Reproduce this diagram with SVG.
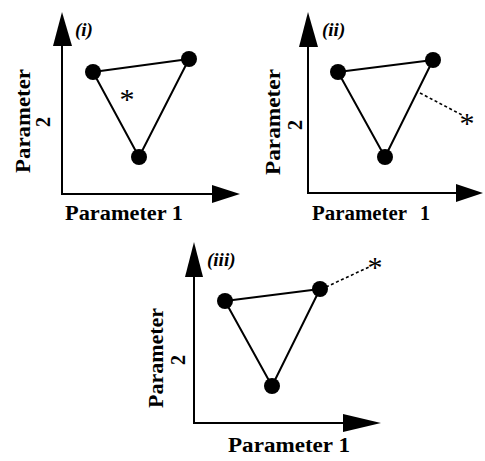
<svg xmlns="http://www.w3.org/2000/svg" width="485" height="461" viewBox="0 0 485 461">
<style>
.ax{stroke:#000;stroke-width:2;fill:none}
.tri{stroke:#000;stroke-width:2;fill:none;stroke-linejoin:round}
.nd{fill:#000}
.ah{fill:#000}
.lbl{font-family:"Liberation Serif",serif;font-weight:bold;font-size:20px;fill:#000}
.tag{font-family:"Liberation Serif",serif;font-style:italic;font-weight:bold;font-size:19px;fill:#000}
.star{font-family:"Liberation Serif",serif;font-size:30px;fill:#000;text-anchor:middle}
.dash{stroke:#000;stroke-width:1.6;stroke-dasharray:3,2.5;fill:none}
</style>
<rect width="485" height="461" fill="#fff"/>
<!-- Panel i -->
<g id="panel-i">
  <g id="axes-i">
    <path class="ax" d="M62,40 V194 H215"/>
    <polygon class="ah" points="62,12 53,46 72,46"/>
    <polygon class="ah" points="240,194 212,185 212,203"/>
    <text class="tag" x="75" y="36">(i)</text>
    <text class="lbl" x="65" y="220" textLength="118" lengthAdjust="spacingAndGlyphs">Parameter 1</text>
    <text class="lbl" transform="translate(30,173) rotate(-90)" textLength="104" lengthAdjust="spacingAndGlyphs">Parameter</text>
    <text class="lbl" transform="translate(50,122) rotate(-90)" text-anchor="middle">2</text>
  </g>
  <g id="simplex-i">
    <polygon class="tri" points="93,72 189,59 139,157"/>
    <circle id="n-i-1" class="nd" cx="93" cy="72" r="8"/>
    <circle id="n-i-2" class="nd" cx="189" cy="59" r="8"/>
    <circle id="n-i-3" class="nd" cx="139" cy="157" r="8"/>
    <text class="star" x="127" y="109">*</text>
  </g>
</g>
<!-- Panel ii -->
<g id="panel-ii">
  <g id="axes-ii">
    <path class="ax" d="M308,40 V193 H460"/>
    <polygon class="ah" points="308,12 299,47 318,47"/>
    <polygon class="ah" points="483,193 456,184 456,202"/>
    <text class="tag" x="322" y="36">(ii)</text>
    <text class="lbl" x="312" y="220"><tspan textLength="95" lengthAdjust="spacingAndGlyphs">Parameter</tspan><tspan x="420">1</tspan></text>
    <text class="lbl" transform="translate(280,175) rotate(-90)" textLength="106" lengthAdjust="spacingAndGlyphs">Parameter</text>
    <text class="lbl" transform="translate(302,125) rotate(-90)" text-anchor="middle">2</text>
  </g>
  <g id="simplex-ii">
    <polygon class="tri" points="338,72 433,60 385,157"/>
    <circle id="n-ii-1" class="nd" cx="338" cy="72" r="8"/>
    <circle id="n-ii-2" class="nd" cx="433" cy="60" r="8"/>
    <circle id="n-ii-3" class="nd" cx="385" cy="157" r="8"/>
  </g>
  <g id="connector-ii">
    <path class="dash" d="M420,93 L462,115"/>
  </g>
  <text class="star" x="467" y="133">*</text>
</g>
<!-- Panel iii -->
<g id="panel-iii">
  <g id="axes-iii">
    <path class="ax" d="M194,270 V423 H350"/>
    <polygon class="ah" points="194,242 185,277 203,277"/>
    <polygon class="ah" points="381,423 343,414 343,432"/>
    <text class="tag" x="207" y="266">(iii)</text>
    <text class="lbl" x="228" y="452" textLength="122" lengthAdjust="spacingAndGlyphs">Parameter 1</text>
    <text class="lbl" transform="translate(163,408) rotate(-90)" textLength="100" lengthAdjust="spacingAndGlyphs">Parameter</text>
    <text class="lbl" transform="translate(185,360) rotate(-90)" text-anchor="middle">2</text>
  </g>
  <g id="simplex-iii">
    <polygon class="tri" points="225,301 320,289 272,386"/>
    <circle id="n-iii-1" class="nd" cx="225" cy="301" r="8"/>
    <circle id="n-iii-2" class="nd" cx="320" cy="289" r="8"/>
    <circle id="n-iii-3" class="nd" cx="272" cy="386" r="8"/>
  </g>
  <g id="connector-iii">
    <path class="dash" d="M326,287 L369,267"/>
  </g>
  <text class="star" x="375" y="277">*</text>
</g>
</svg>
